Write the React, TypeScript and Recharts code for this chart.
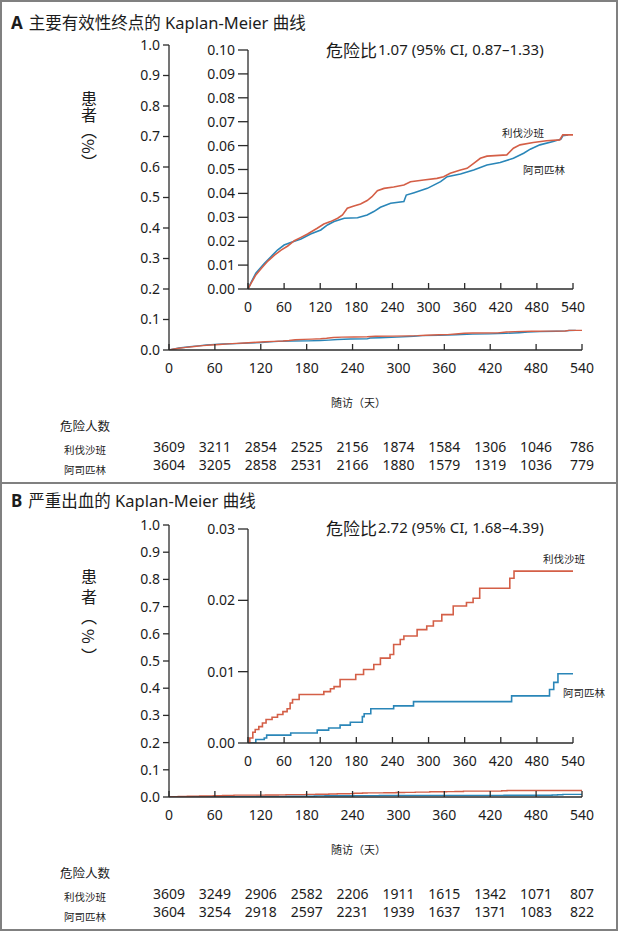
import { Line, LineChart, XAxis, YAxis } from "recharts";

const dayTicks = [0, 60, 120, 180, 240, 300, 360, 420, 480, 540];
const mainTicks = [0, 0.1, 0.2, 0.3, 0.4, 0.5, 0.6, 0.7, 0.8, 0.9, 1.0];
const effInsetTicks = [0, 0.01, 0.02, 0.03, 0.04, 0.05, 0.06, 0.07, 0.08, 0.09, 0.1];
const bleedInsetTicks = [0, 0.01, 0.02, 0.03];

// panel A: primary efficacy outcome
const effRivaDays = [0, 5, 13, 22, 33, 44, 55, 66, 77, 88, 99, 115, 126, 137, 149, 157, 165, 176, 187, 198, 206, 215, 226, 242, 259, 270, 292, 314, 325, 336, 353, 364, 375, 386, 397, 430, 441, 452, 474, 496, 518, 523, 540];
const effRivaRisk = [0, 0.0024, 0.0059, 0.0086, 0.0117, 0.0142, 0.0163, 0.018, 0.0202, 0.0216, 0.023, 0.0254, 0.0272, 0.0282, 0.0296, 0.031, 0.0338, 0.0347, 0.0356, 0.037, 0.0386, 0.0411, 0.0421, 0.0427, 0.0435, 0.0449, 0.0456, 0.0463, 0.047, 0.0484, 0.0498, 0.0505, 0.0526, 0.0547, 0.0556, 0.0561, 0.0589, 0.0603, 0.0613, 0.062, 0.0624, 0.0645, 0.0645];
const effAspDays = [0, 5, 13, 27, 38, 49, 60, 71, 88, 104, 121, 132, 143, 160, 182, 198, 209, 220, 237, 259, 263, 276, 298, 320, 331, 353, 375, 397, 419, 441, 458, 469, 485, 507, 520, 523, 532];
const effAspRisk = [0, 0.0027, 0.0066, 0.0107, 0.0135, 0.0163, 0.0184, 0.0195, 0.0209, 0.023, 0.0247, 0.0268, 0.0282, 0.0296, 0.0298, 0.031, 0.0324, 0.0342, 0.0359, 0.0366, 0.0393, 0.0403, 0.0421, 0.0449, 0.047, 0.0481, 0.0498, 0.0519, 0.0529, 0.0547, 0.0568, 0.0585, 0.0603, 0.0617, 0.0627, 0.0641, 0.0645];
const effRivaAtRisk = [3609, 3211, 2854, 2525, 2156, 1874, 1584, 1306, 1046, 786];
const effAspAtRisk = [3604, 3205, 2858, 2531, 2166, 1880, 1579, 1319, 1036, 779];

// panel B: major bleeding
const bleedRivaDays = [0, 3, 8, 12, 18, 24, 30, 40, 49, 58, 65, 70, 74, 85, 126, 137, 143, 153, 179, 192, 209, 220, 236, 242, 253, 259, 281, 297, 308, 322, 341, 363, 374, 385, 435, 442, 540];
const bleedRivaRisk = [0, 0.0007, 0.0015, 0.0019, 0.0023, 0.0028, 0.0033, 0.0036, 0.004, 0.0044, 0.0048, 0.0056, 0.0061, 0.0068, 0.0072, 0.0076, 0.0079, 0.0089, 0.0096, 0.0103, 0.011, 0.0119, 0.0124, 0.0138, 0.0145, 0.015, 0.0159, 0.0164, 0.0171, 0.018, 0.0192, 0.0197, 0.0203, 0.0217, 0.0231, 0.0241, 0.0241];
const bleedAspDays = [0, 13, 27, 31, 71, 115, 134, 153, 170, 190, 193, 204, 242, 275, 438, 501, 508, 515, 540];
const bleedAspRisk = [0, 0.0005, 0.0007, 0.0011, 0.0014, 0.0018, 0.0021, 0.0025, 0.0029, 0.0037, 0.0041, 0.0048, 0.0052, 0.0058, 0.0066, 0.0075, 0.0085, 0.0097, 0.0097];
const bleedRivaAtRisk = [3609, 3249, 2906, 2582, 2206, 1911, 1615, 1342, 1071, 807];
const bleedAspAtRisk = [3604, 3254, 2918, 2597, 2231, 1939, 1637, 1371, 1083, 822];

const toRows = (days: number[], risk: number[]) => days.map((day, i) => ({ day, risk: risk[i] }));

const effRiva = toRows(effRivaDays, effRivaRisk);
const effAsp = toRows(effAspDays, effAspRisk);
const bleedRiva = toRows(bleedRivaDays, bleedRivaRisk);
const bleedAsp = toRows(bleedAspDays, bleedAspRisk);

const RED = "#d45f47";
const BLUE = "#2a86b8";
const AXIS = "#2b2b2b";
const INK = "#1c1c1c";
const FRAME = "#808080";
const FONT = '"Noto Sans", "Noto Sans CJK SC", sans-serif';
const CJK = '"Noto Sans CJK SC", sans-serif';

const MAIN_LEFT = 169;
const MAIN_RIGHT = 582;
const colX = (d: number) => MAIN_LEFT + ((MAIN_RIGHT - MAIN_LEFT) * d) / 540;

// x ticks point up into the plot, labels sit below the axis
const renderDayTick = (props: any) => {
  const { x, y, payload } = props;
  return (
    <g>
      <line x1={x} y1={y} x2={x} y2={y - 6} stroke={AXIS} strokeWidth={1.3} />
      <text x={x} y={y + 18} dy="0.35em" textAnchor="middle" fontSize={14} fill={INK}>
        {payload.value}
      </text>
    </g>
  );
};

type KMProps = {
  top: number;
  bottom: number;
  left: number;
  right: number;
  yMax: number;
  yTicks: number[];
  digits: number;
  tickLen: number;
  riva: { day: number; risk: number }[];
  asp: { day: number; risk: number }[];
  curve: "linear" | "stepAfter";
  width: number;
};

function KMChart(p: KMProps) {
  return (
    <div style={{ position: "absolute", left: 0, top: 0 }}>
      <LineChart width={618} height={p.bottom + 40} margin={{ top: p.top, right: 618 - p.right, bottom: 0, left: 0 }}>
        <XAxis
          type="number"
          dataKey="day"
          domain={[0, 540]}
          ticks={dayTicks}
          interval={0}
          height={40}
          tickSize={0}
          tickMargin={0}
          tickLine={false}
          axisLine={{ stroke: AXIS, strokeWidth: 1.3 }}
          tick={renderDayTick}
        />
        <YAxis
          type="number"
          domain={[0, p.yMax]}
          ticks={p.yTicks}
          interval={0}
          width={p.left}
          allowDataOverflow
          tickSize={p.tickLen}
          tickMargin={3}
          tickLine={{ stroke: AXIS, strokeWidth: 1.3 }}
          axisLine={{ stroke: AXIS, strokeWidth: 1.3 }}
          tick={{ fontSize: 14, fill: INK }}
          tickFormatter={(v: number) => v.toFixed(p.digits)}
        />
        <Line data={p.asp} dataKey="risk" type={p.curve} stroke={BLUE} strokeWidth={p.width} dot={false} isAnimationActive={false} />
        <Line data={p.riva} dataKey="risk" type={p.curve} stroke={RED} strokeWidth={p.width} dot={false} isAnimationActive={false} />
      </LineChart>
    </div>
  );
}

const abs = (left: number, top: number, extra: React.CSSProperties = {}): React.CSSProperties => ({
  position: "absolute",
  left,
  top,
  whiteSpace: "nowrap",
  color: INK,
  ...extra,
});

function Panel(props: {
  letter: string;
  title: string;
  y0: number;
  hr: string;
  rivaAtRisk: number[];
  aspAtRisk: number[];
  tableTop: number;
  labelSpacing: number;
}) {
  const { y0, tableTop } = props;
  return (
    <>
      <div style={abs(11, y0 - 10, { fontSize: 16.5, lineHeight: "20px" })}>
        <b style={{ fontSize: 17, marginRight: 6 }}>{props.letter}</b>
        {props.title}
      </div>
      <div style={abs(326, y0 + 18, { fontSize: 17, lineHeight: "20px" })}>危险比</div>
      <div style={abs(378, y0 + 17, { fontSize: 15, lineHeight: "18px" })}>{props.hr}</div>
      <div
        style={abs(80, y0 + 68, {
          fontFamily: CJK,
          fontSize: 16,
          lineHeight: "18px",
          writingMode: "vertical-rl",
          letterSpacing: props.labelSpacing,
        })}
      >
        患者︵%︶
      </div>
      <div style={abs(331, tableTop - 31, { fontSize: 11, lineHeight: "14px" })}>随访（天）</div>
      <div style={abs(60, tableTop - 8, { fontSize: 12.5, lineHeight: "16px" })}>危险人数</div>
      <div style={abs(64, tableTop + 16, { fontSize: 10.5, lineHeight: "14px" })}>利伐沙班</div>
      <div style={abs(64, tableTop + 36, { fontSize: 10.5, lineHeight: "14px" })}>阿司匹林</div>
      {props.rivaAtRisk.map((n, i) => (
        <div key={"r" + i} style={abs(colX(dayTicks[i]), tableTop + 12, { fontSize: 14, lineHeight: "16px", transform: "translateX(-50%)" })}>
          {n}
        </div>
      ))}
      {props.aspAtRisk.map((n, i) => (
        <div key={"a" + i} style={abs(colX(dayTicks[i]), tableTop + 30, { fontSize: 14, lineHeight: "16px", transform: "translateX(-50%)" })}>
          {n}
        </div>
      ))}
    </>
  );
}

export default function App() {
  return (
    <div style={{ position: "absolute", left: 0, top: 0, width: 618, height: 931, background: "#fff", fontFamily: FONT, overflow: "hidden" }}>
      <div style={{ position: "absolute", left: 0, top: 0, width: 618, height: 931, boxSizing: "border-box", border: `2px solid ${FRAME}` }} />
      <div style={{ position: "absolute", left: 0, top: 482, width: 618, height: 2, background: FRAME }} />

      <KMChart top={45} bottom={350} left={MAIN_LEFT} right={MAIN_RIGHT} yMax={1} yTicks={mainTicks} digits={1} tickLen={6} riva={effRiva} asp={effAsp} curve="linear" width={1.4} />
      <KMChart top={50} bottom={289} left={248} right={573} yMax={0.1} yTicks={effInsetTicks} digits={2} tickLen={10} riva={effRiva} asp={effAsp} curve="linear" width={1.6} />
      <Panel letter="A" title="主要有效性终点的 Kaplan-Meier 曲线" y0={23} hr="1.07 (95% CI, 0.87–1.33)" rivaAtRisk={effRivaAtRisk} aspAtRisk={effAspAtRisk} tableTop={427} labelSpacing={0} />
      <div style={abs(502, 127, { fontSize: 10.5, lineHeight: "12px" })}>利伐沙班</div>
      <div style={abs(523, 164, { fontSize: 10.5, lineHeight: "12px" })}>阿司匹林</div>

      <KMChart top={525} bottom={797} left={MAIN_LEFT} right={MAIN_RIGHT} yMax={1} yTicks={mainTicks} digits={1} tickLen={6} riva={bleedRiva} asp={bleedAsp} curve="stepAfter" width={1.4} />
      <KMChart top={529} bottom={743} left={248} right={573} yMax={0.03} yTicks={bleedInsetTicks} digits={2} tickLen={10} riva={bleedRiva} asp={bleedAsp} curve="stepAfter" width={1.6} />
      <Panel letter="B" title="严重出血的 Kaplan-Meier 曲线" y0={501} hr="2.72 (95% CI, 1.68–4.39)" rivaAtRisk={bleedRivaAtRisk} aspAtRisk={bleedAspAtRisk} tableTop={874} labelSpacing={4} />
      <div style={abs(543, 553, { fontSize: 10.5, lineHeight: "12px" })}>利伐沙班</div>
      <div style={abs(563, 687, { fontSize: 10.5, lineHeight: "12px" })}>阿司匹林</div>
    </div>
  );
}
